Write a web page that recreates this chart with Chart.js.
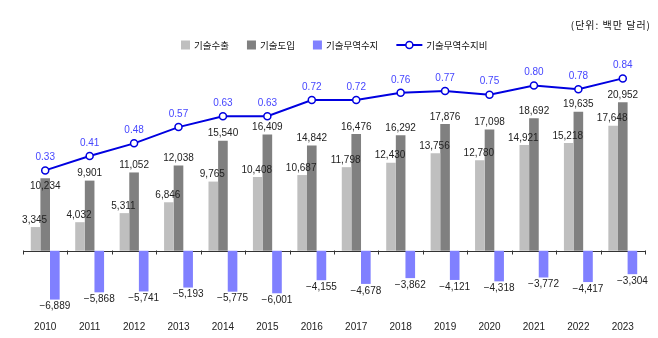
<!DOCTYPE html>
<html>
<head>
<meta charset="utf-8">
<script src="https://cdn.jsdelivr.net/npm/chart.js@4.4.1/dist/chart.umd.min.js"></script>
<style>
  html, body { margin: 0; padding: 0; background: #fff; }
</style>
</head>
<body>
<canvas id="chart" width="658" height="338"></canvas>
<script>
const years = ['2010', '2011', '2012', '2013', '2014', '2015', '2016', '2017', '2018', '2019', '2020', '2021', '2022', '2023'];
const exportValues = [3345, 4032, 5311, 6846, 9765, 10408, 10687, 11798, 12430, 13756, 12780, 14921, 15218, 17648];
const importValues = [10234, 9901, 11052, 12038, 15540, 16409, 14842, 16476, 16292, 17876, 17098, 18692, 19635, 20952];
const balanceValues = [-6889, -5868, -5741, -5193, -5775, -6001, -4155, -4678, -3862, -4121, -4318, -3772, -4417, -3304];
const ratioValues = [0.33, 0.41, 0.48, 0.57, 0.63, 0.63, 0.72, 0.72, 0.76, 0.77, 0.75, 0.80, 0.78, 0.84];

const unitText = '(단위: 백만 달러)';
const numFont = '10px "Liberation Sans", Arial, sans-serif';
const korFont = '9.5px "Noto Sans CJK KR", sans-serif';

// value labels over bars and points
const valueLabels = {
    id: 'valueLabels',
    afterDatasetsDraw(chart) {
        const ctx = chart.ctx;
        ctx.save();
        ctx.font = numFont;
        ctx.textAlign = 'center';
        ctx.textBaseline = 'middle';
        chart.data.datasets.forEach((ds, di) => {
            const meta = chart.getDatasetMeta(di);
            meta.data.forEach((el, i) => {
                const v = ds.data[i];
                if (ds.type === 'line') {
                    ctx.fillStyle = '#4646ff';
                    ctx.fillText(v.toFixed(2), el.x, el.y - 13);
                } else {
                    ctx.fillStyle = '#222';
                    let txt = v.toLocaleString('en-US').replace('-', '\u2212');
                    let y = v >= 0 ? el.y - 7 : el.y + 7;
                    // 2010 import label sits lower in the original, out of the way of the line
                    if (di === 1 && i === 0) y = el.y + 8;
                    ctx.fillText(txt, el.x - (v >= 0 && di === 0 ? 1 : 0), y);
                }
            });
        });
        ctx.restore();
    }
};

// zero line with category ticks, legend row and unit text
const decorations = {
    id: 'decorations',
    beforeDatasetsDraw(chart) {
        const ctx = chart.ctx;
        const x = chart.scales.x;
        const y0 = Math.round(chart.scales.y.getPixelForValue(0)) + 0.5;
        const step = x.getPixelForValue(1) - x.getPixelForValue(0);
        ctx.save();
        ctx.strokeStyle = '#333';
        ctx.lineWidth = 1;
        ctx.beginPath();
        ctx.moveTo(chart.chartArea.left, y0);
        ctx.lineTo(chart.chartArea.right, y0);
        for (let i = 0; i <= years.length; i++) {
            const tx = Math.round(x.getPixelForValue(i) - step / 2) + 0.5;
            ctx.moveTo(tx, y0 - 1);
            ctx.lineTo(tx, y0 + 3);
        }
        ctx.stroke();
        ctx.restore();
    },
    afterDraw(chart) {
        const ctx = chart.ctx;
        ctx.save();
        ctx.fillStyle = '#111';
        ctx.textBaseline = 'middle';
        ctx.textAlign = 'right';
        ctx.font = '10px "Noto Sans CJK KR", sans-serif';
        ctx.letterSpacing = '1px';
        ctx.fillText(unitText, 651, 25);
        ctx.letterSpacing = '0px';

        ctx.font = korFont;
        ctx.textAlign = 'left';
        const items = chart.data.datasets.map(ds => ({
            text: ds.label,
            line: ds.type === 'line',
            color: ds.type === 'line' ? ds.borderColor : ds.backgroundColor,
            w: ds.type === 'line' ? 26 : 9
        }));
        const gap = 4, pad = 18;
        let lx = 181;
        const ly = 45;
        items.forEach(it => {
            it.tw = ctx.measureText(it.text).width;
            if (it.line) {
                ctx.strokeStyle = it.color;
                ctx.lineWidth = 2;
                ctx.beginPath();
                ctx.moveTo(lx, ly);
                ctx.lineTo(lx + it.w, ly);
                ctx.stroke();
                ctx.beginPath();
                ctx.arc(lx + it.w / 2, ly, 3.5, 0, Math.PI * 2);
                ctx.fillStyle = '#fff';
                ctx.fill();
                ctx.lineWidth = 1.5;
                ctx.stroke();
            } else {
                ctx.fillStyle = it.color;
                ctx.fillRect(lx, ly - 4.5, 9, 9);
            }
            ctx.fillStyle = '#111';
            ctx.fillText(it.text, lx + it.w + gap, ly);
            lx += it.w + gap + it.tw + pad;
        });
        ctx.restore();
    }
};

new Chart(document.getElementById('chart').getContext('2d'), {
    type: 'bar',
    data: {
        labels: years,
        datasets: [
            { label: '기술수출', data: exportValues, backgroundColor: '#bfbfbf', yAxisID: 'y', order: 1 },
            { label: '기술도입', data: importValues, backgroundColor: '#808080', yAxisID: 'y', order: 1 },
            { label: '기술무역수지', data: balanceValues, backgroundColor: '#8080ff', yAxisID: 'y', order: 1 },
            {
                type: 'line', label: '기술무역수지비', data: ratioValues, yAxisID: 'y1', order: 0,
                borderColor: '#0000e0', borderWidth: 2, tension: 0,
                pointRadius: 3.5, pointBorderWidth: 1.5, pointBackgroundColor: '#fff', pointBorderColor: '#0000e0'
            }
        ]
    },
    options: {
        responsive: false,
        animation: false,
        layout: { padding: { top: 60, left: 23, right: 13, bottom: 0 } },
        datasets: { bar: { barPercentage: 1, categoryPercentage: 0.65 } },
        plugins: { legend: { display: false }, tooltip: { enabled: false } },
        scales: {
            x: {
                grid: { display: false, drawTicks: false },
                border: { display: false },
                ticks: { color: '#222', font: { family: '"Liberation Sans", Arial, sans-serif', size: 10 }, padding: 5 }
            },
            y: { display: false, min: -9207, max: 26924 },
            y1: { display: false, min: -0.477, max: 0.942 }
        }
    },
    plugins: [valueLabels, decorations]
});
</script>
</body>
</html>
